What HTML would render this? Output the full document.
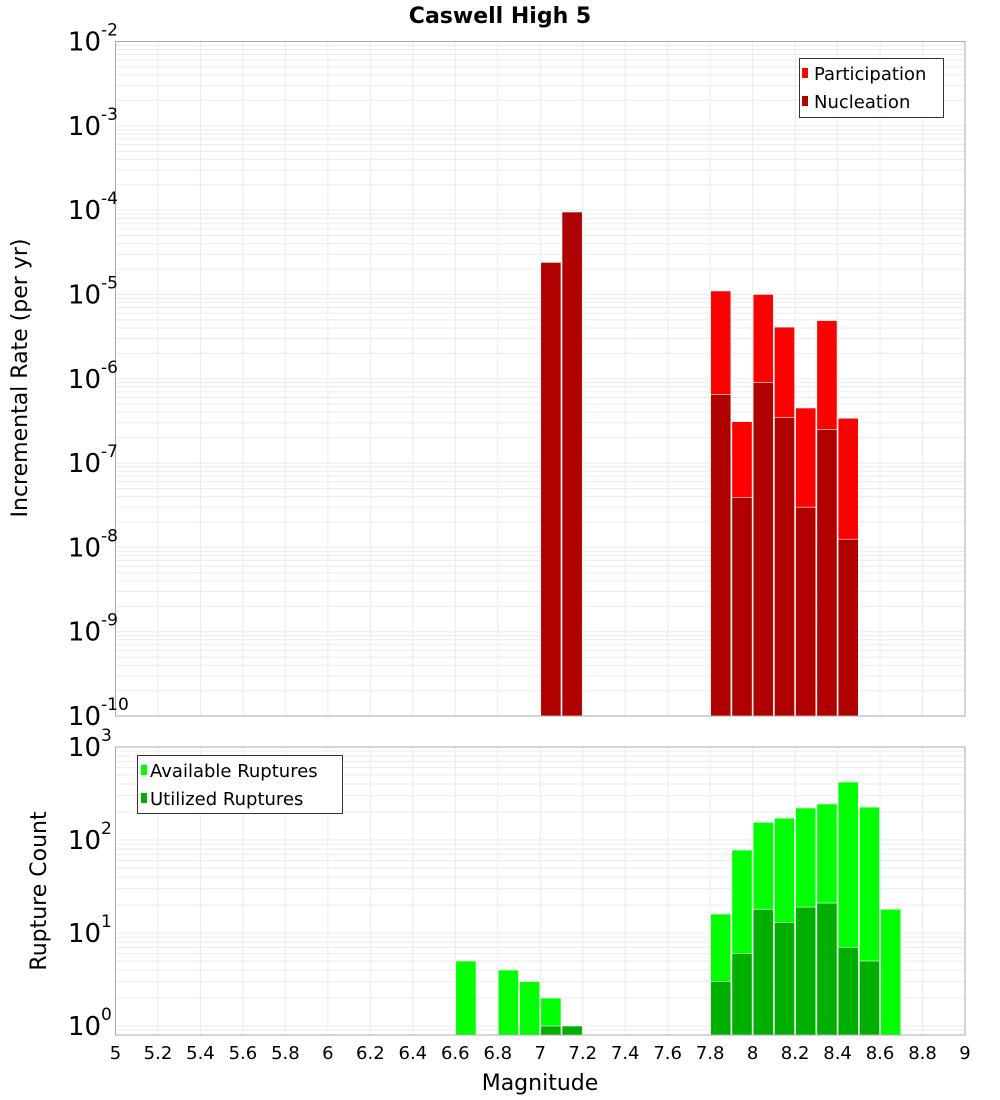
<!DOCTYPE html>
<html><head><meta charset="utf-8"><style>
body{margin:0;background:#fff;}
svg{display:block;font-family:"DejaVu Sans","Liberation Sans",sans-serif;}
</style></head><body>
<svg id="chart" width="1000" height="1100" viewBox="0 0 1000 1100" xmlns="http://www.w3.org/2000/svg">
<text x="500" y="23" text-anchor="middle" font-size="22" font-weight="bold">Caswell High 5</text>
<g id="gtop"></g>
<g id="gbot"></g>
<text transform="translate(27,378) rotate(-90)" text-anchor="middle" font-size="22">Incremental Rate (per yr)</text>
<text transform="translate(46,891) rotate(-90)" text-anchor="middle" font-size="22">Rupture Count</text>
<text x="540" y="1090" text-anchor="middle" font-size="22">Magnitude</text>
<g>
<rect x="799.5" y="58.5" width="144" height="59" fill="#fff" stroke="#333"/>
<rect x="802" y="68" width="6" height="10" fill="#ff0000"/>
<text x="814" y="80" font-size="18">Participation</text>
<rect x="802" y="96" width="6" height="10" fill="#b00000"/>
<text x="814" y="108" font-size="18">Nucleation</text>
</g>
<g>
<rect x="137.5" y="755.5" width="205" height="58" fill="#fff" stroke="#333"/>
<rect x="141" y="765" width="6" height="10" fill="#00ff00"/>
<text x="150" y="777" font-size="18">Available Ruptures</text>
<rect x="141" y="793" width="6" height="10" fill="#00b000"/>
<text x="150" y="805" font-size="18">Utilized Ruptures</text>
</g>
</svg>
<script>
const rateMags=[7.05,7.15,7.85,7.95,8.05,8.15,8.25,8.35,8.45];
const participation=[2.4e-5,9.5e-5,1.1e-5,3.1e-7,1.0e-5,4.1e-6,4.5e-7,4.9e-6,3.4e-7];
const nucleation=[2.4e-5,9.5e-5,6.5e-7,3.9e-8,9.0e-7,3.45e-7,3.0e-8,2.5e-7,1.25e-8];
const countMags=[6.65,6.85,6.95,7.05,7.15,7.85,7.95,8.05,8.15,8.25,8.35,8.45,8.55,8.65];
const available=[5,4,3,2,1,16,78,155,172,221,244,420,226,18];
const utilized=[0,0,0,1,1,3,6,18,13,19,21,7,5,0];
const xTicks=["5","5.2","5.4","5.6","5.8","6","6.2","6.4","6.6","6.8","7","7.2","7.4","7.6","7.8","8","8.2","8.4","8.6","8.8","9"];
const rateExps=[-10,-9,-8,-7,-6,-5,-4,-3,-2];
const countExps=[0,1,2,3];

const NS="http://www.w3.org/2000/svg";
const X0=115.5,X1=965,M0=5,M1=9,BIN=0.1;
const xs=m=>X0+(m-M0)/(M1-M0)*(X1-X0);
const T={top:41.5,bot:716,lo:-10,hi:-2};
const yT=v=>T.bot-(Math.log10(v)-T.lo)/(T.hi-T.lo)*(T.bot-T.top);
const B={top:747,bot:1035,dec:93,zero:1026};
const yB=v=>B.zero-Math.log10(v)*B.dec;
function mk(p,tag,a){const e=document.createElementNS(NS,tag);for(const k in a)e.setAttribute(k,a[k]);p.appendChild(e);return e;}
const gTop=document.getElementById('gtop'),gBot=document.getElementById('gbot');
function panel(g,y0,y1,yfn,lo,hi){
  mk(g,'rect',{x:X0,y:y0,width:X1-X0,height:y1-y0,fill:'#fff'});
  for(let e=Math.floor(lo);e<=hi;e++)for(let k=1;k<10;k++){const v=k*Math.pow(10,e);const yy=yfn(v);if(yy<y0||yy>y1)continue;
    const l=mk(g,'line',{x1:X0,x2:X1,y1:yy,y2:yy,stroke:'#ebebeb','stroke-width':1});
    
    }
  xTicks.forEach(t=>{const xx=xs(parseFloat(t));const l=mk(g,'line',{x1:xx,x2:xx,y1:y0,y2:y1,stroke:'#ebebeb','stroke-width':1});
    
    });
}
panel(gTop,T.top,T.bot,yT,-10,-2);
panel(gBot,B.top,B.bot,yB,-1,3);
function bar(g,m,v,yfn,ybase,fill,name){const xl=xs(m-BIN/2)+0.5,xr=xs(m+BIN/2)-0.5;const yy=yfn(v);
  const r=mk(g,'rect',{x:xl,y:yy,width:xr-xl,height:Math.max(0,ybase-yy),fill:fill,stroke:'#fff','stroke-width':0.6});
  
  }
rateMags.forEach((m,i)=>{bar(gTop,m,participation[i],yT,T.bot,'#ff0000','bar-participation');});
rateMags.forEach((m,i)=>{bar(gTop,m,nucleation[i],yT,T.bot,'#b00000','bar-nucleation');});
countMags.forEach((m,i)=>{if(available[i]>0)bar(gBot,m,available[i],yB,B.bot,'#00ff00','bar-available');});
countMags.forEach((m,i)=>{if(utilized[i]>0)bar(gBot,m,utilized[i],yB,B.bot,'#00b000','bar-utilized');});
mk(gTop,'rect',{x:X0,y:T.top,width:X1-X0,height:T.bot-T.top,fill:'none',stroke:'#aaa'});
mk(gBot,'rect',{x:X0,y:B.top,width:X1-X0,height:B.bot-B.top,fill:'none',stroke:'#aaa'});
function ylab(g,e,yy,name){const t=mk(g,'text',{x:101,y:yy+9,'text-anchor':'end','font-size':26});t.textContent='10';
  
  
  const s=mk(g,'text',{x:101,y:yy-6,'font-size':17});s.textContent=String(e);
  
  }
rateExps.forEach(e=>ylab(gTop,e,yT(Math.pow(10,e)),'y-tick-label-rate'));
countExps.forEach(e=>ylab(gBot,e,yB(Math.pow(10,e)),'y-tick-label-count'));
xTicks.forEach(t=>{const l=mk(gBot,'text',{x:xs(parseFloat(t)),y:1059,'text-anchor':'middle','font-size':18});l.textContent=t;
  
  });
</script>
</body></html>
